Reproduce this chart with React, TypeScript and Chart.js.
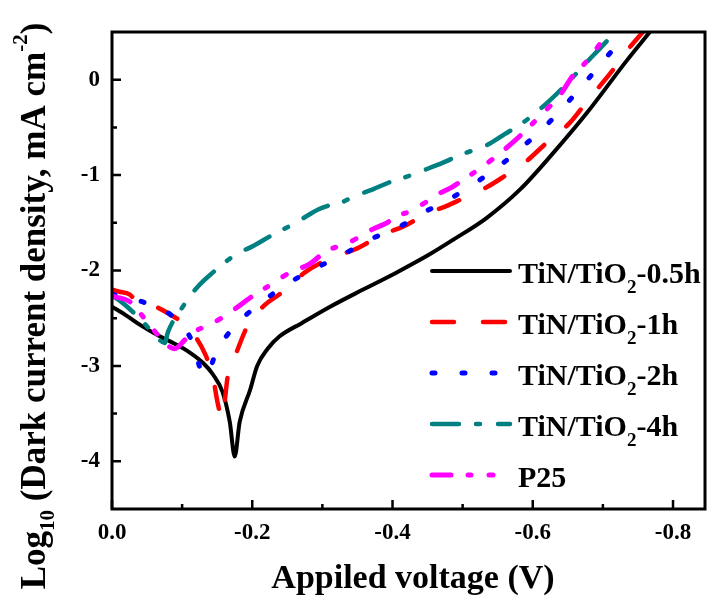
import { useEffect, useRef } from "react";
import { Chart, registerables } from "chart.js";

Chart.register(...registerables);

// Applied voltage (V) and log10 of dark current density for each sample
const voltage05h = [0, -0.02, -0.04, -0.068, -0.09, -0.111, -0.13, -0.144, -0.158, -0.168, -0.175, -0.182, -0.197, -0.207, -0.222, -0.239, -0.271, -0.311, -0.358, -0.406, -0.453, -0.486, -0.534, -0.582, -0.629, -0.677, -0.734, -0.767];
const logJ05h = [-2.38, -2.47, -2.57, -2.69, -2.77, -2.86, -2.97, -3.09, -3.28, -3.59, -3.95, -3.59, -3.25, -3.0, -2.82, -2.69, -2.55, -2.38, -2.2, -2.02, -1.83, -1.68, -1.45, -1.15, -0.77, -0.35, 0.2, 0.5];

const voltage1h = [0, -0.009, -0.025, -0.036, -0.055, -0.078, -0.111, -0.133, -0.144, -0.151, -0.157, -0.161, -0.165, -0.178, -0.194, -0.218, -0.235, -0.251, -0.275, -0.315, -0.346, -0.387, -0.415, -0.453, -0.475, -0.496, -0.513, -0.536, -0.56, -0.59, -0.617, -0.653, -0.677, -0.713, -0.735, -0.757];
const logJ1h = [-2.2, -2.22, -2.25, -2.33, -2.36, -2.44, -2.62, -2.88, -3.12, -3.4, -3.55, -3.35, -3.11, -2.85, -2.57, -2.36, -2.27, -2.18, -2.02, -1.86, -1.78, -1.62, -1.54, -1.39, -1.33, -1.26, -1.2, -1.12, -1.01, -0.86, -0.68, -0.45, -0.23, 0.09, 0.31, 0.5];

const voltage2h = [0, -0.044, -0.083, -0.114, -0.128, -0.134, -0.149, -0.175, -0.209, -0.25, -0.292, -0.33, -0.372, -0.4, -0.42, -0.445, -0.477, -0.51, -0.546, -0.586, -0.627, -0.664, -0.7, -0.735];
const logJ2h = [-2.25, -2.33, -2.46, -2.74, -3.07, -3.1, -2.85, -2.58, -2.36, -2.14, -1.97, -1.83, -1.66, -1.58, -1.5, -1.39, -1.27, -1.12, -0.94, -0.7, -0.42, -0.12, 0.19, 0.5];

const voltage4h = [0, -0.004, -0.043, -0.068, -0.075, -0.08, -0.1, -0.121, -0.144, -0.175, -0.202, -0.228, -0.262, -0.282, -0.294, -0.313, -0.329, -0.346, -0.372, -0.394, -0.415, -0.444, -0.472, -0.496, -0.536, -0.56, -0.586, -0.624, -0.65, -0.674, -0.71, -0.717];
const logJ4h = [-2.27, -2.28, -2.53, -2.73, -2.76, -2.64, -2.39, -2.18, -2.02, -1.84, -1.74, -1.63, -1.5, -1.41, -1.36, -1.31, -1.28, -1.22, -1.15, -1.08, -1.03, -0.95, -0.87, -0.79, -0.68, -0.57, -0.45, -0.22, -0.03, 0.16, 0.44, 0.5];

const voltageP25 = [0, -0.026, -0.047, -0.071, -0.089, -0.105, -0.118, -0.144, -0.172, -0.2, -0.226, -0.254, -0.282, -0.305, -0.337, -0.352, -0.363, -0.377, -0.392, -0.406, -0.425, -0.444, -0.465, -0.486, -0.511, -0.536, -0.56, -0.586, -0.613, -0.639, -0.657, -0.679, -0.703, -0.708];
const logJP25 = [-2.27, -2.33, -2.51, -2.72, -2.82, -2.72, -2.64, -2.55, -2.42, -2.27, -2.15, -2.02, -1.93, -1.8, -1.71, -1.65, -1.6, -1.55, -1.5, -1.43, -1.38, -1.3, -1.2, -1.12, -1.0, -0.87, -0.73, -0.56, -0.36, -0.16, 0.04, 0.21, 0.45, 0.5];

const seriesLabels = ["TiN/TiO_2-0.5h", "TiN/TiO_2-1h", "TiN/TiO_2-2h", "TiN/TiO_2-4h", "P25"];

const xMajorTicks = [0, -0.2, -0.4, -0.6, -0.8];
const xMinorTicks = [-0.1, -0.3, -0.5, -0.7];
const yMajorTicks = [0, -1, -2, -3, -4];
const yMinorTicks = [-0.5, -1.5, -2.5, -3.5];

const FONT = "'Liberation Serif', 'Times New Roman', serif";

type Part = { text: string; size: number; dy: number };

function partsWidth(ctx: CanvasRenderingContext2D, parts: Part[]) {
  let w = 0;
  for (const p of parts) {
    ctx.font = `bold ${p.size}px ${FONT}`;
    w += ctx.measureText(p.text).width;
  }
  return w;
}

function drawParts(ctx: CanvasRenderingContext2D, parts: Part[], x: number, y: number) {
  let cx = x;
  ctx.textBaseline = "alphabetic";
  ctx.textAlign = "left";
  for (const p of parts) {
    ctx.font = `bold ${p.size}px ${FONT}`;
    ctx.fillText(p.text, cx, y + p.dy);
    cx += ctx.measureText(p.text).width;
  }
}

function labelParts(label: string, size: number): Part[] {
  const idx = label.indexOf("_");
  if (idx < 0) return [{ text: label, size, dy: 0 }];
  return [
    { text: label.slice(0, idx), size, dy: 0 },
    { text: label.slice(idx + 1, idx + 2), size: 19, dy: 10 },
    { text: label.slice(idx + 2), size, dy: 0 },
  ];
}

const framePlugin = {
  id: "frameAndLabels",
  afterDraw(chart: any) {
    const ctx: CanvasRenderingContext2D = chart.ctx;
    const { left, right, top, bottom } = chart.chartArea;
    const xs = chart.scales.x;
    const ys = chart.scales.y;
    ctx.save();
    ctx.strokeStyle = "#000";
    ctx.fillStyle = "#000";

    // frame
    ctx.lineWidth = 3;
    ctx.lineCap = "butt";
    ctx.strokeRect(left, top, right - left, bottom - top);

    // inward ticks on the bottom and left axes
    ctx.lineWidth = 2.5;
    ctx.beginPath();
    for (const v of xMajorTicks) {
      const px = xs.getPixelForValue(v);
      ctx.moveTo(px, bottom);
      ctx.lineTo(px, bottom - 9);
    }
    for (const v of xMinorTicks) {
      const px = xs.getPixelForValue(v);
      ctx.moveTo(px, bottom);
      ctx.lineTo(px, bottom - 5);
    }
    for (const v of yMajorTicks) {
      const py = ys.getPixelForValue(v);
      ctx.moveTo(left, py);
      ctx.lineTo(left + 9, py);
    }
    for (const v of yMinorTicks) {
      const py = ys.getPixelForValue(v);
      ctx.moveTo(left, py);
      ctx.lineTo(left + 5, py);
    }
    ctx.stroke();

    // legend
    const lineX0 = right - 273;
    const lineX1 = right - 195;
    const textX = right - 187;
    chart.data.datasets.forEach((ds: any, i: number) => {
      const rowY = top + 239 + i * 51;
      ctx.save();
      ctx.strokeStyle = ds.borderColor;
      ctx.lineWidth = ds.borderWidth;
      ctx.lineCap = "round";
      ctx.setLineDash(ds.borderDash || []);
      ctx.beginPath();
      ctx.moveTo(lineX0, rowY);
      ctx.lineTo(lineX1, rowY);
      ctx.stroke();
      ctx.restore();
      drawParts(ctx, labelParts(ds.label, 30), textX, rowY + 12);
    });

    // x-axis title
    const xTitle: Part[] = [{ text: "Appiled voltage (V)", size: 34, dy: 0 }];
    const xw = partsWidth(ctx, xTitle);
    drawParts(ctx, xTitle, 413 - xw / 2, 588);

    // y-axis title
    const yTitle: Part[] = [
      { text: "Log", size: 35, dy: 0 },
      { text: "10", size: 21, dy: 9 },
      { text: " (Dark current density, mA cm", size: 35, dy: 0 },
      { text: "-2", size: 21, dy: -18 },
      { text: ")", size: 35, dy: 0 },
    ];
    const yw = partsWidth(ctx, yTitle);
    ctx.translate(45, 306);
    ctx.rotate(-Math.PI / 2);
    drawParts(ctx, yTitle, -yw / 2, 0);

    ctx.restore();
  },
};

function toPoints(xs: number[], ys: number[]) {
  return xs.map((x, i) => ({ x, y: ys[i] }));
}

export default function App() {
  const canvasRef = useRef<HTMLCanvasElement | null>(null);

  useEffect(() => {
    if (!canvasRef.current) return;
    const common = {
      fill: false,
      pointRadius: 0,
      cubicInterpolationMode: "monotone" as const,
      borderCapStyle: "round" as const,
      borderJoinStyle: "round" as const,
    };
    const chart = new Chart(canvasRef.current, {
      type: "line",
      data: {
        datasets: [
          { ...common, label: seriesLabels[0], data: toPoints(voltage05h, logJ05h), borderColor: "#000000", borderWidth: 4, borderDash: [], order: 5 },
          { ...common, label: seriesLabels[1], data: toPoints(voltage1h, logJ1h), borderColor: "#FF0000", borderWidth: 4.5, borderDash: [22, 29], order: 4 },
          { ...common, label: seriesLabels[2], data: toPoints(voltage2h, logJ2h), borderColor: "#0000FF", borderWidth: 5, borderDash: [3, 27], order: 3 },
          { ...common, label: seriesLabels[3], data: toPoints(voltage4h, logJ4h), borderColor: "#008080", borderWidth: 4.5, borderDash: [27, 17, 4, 18], order: 2 },
          { ...common, label: seriesLabels[4], data: toPoints(voltageP25, logJP25), borderColor: "#FF00FF", borderWidth: 5, borderDash: [19, 17, 3, 18, 4, 18], order: 1 },
        ],
      },
      options: {
        animation: false,
        responsive: false,
        maintainAspectRatio: false,
        layout: { padding: { top: 32, right: 3, left: 0, bottom: 0 } },
        plugins: {
          legend: { display: false },
          tooltip: { enabled: false },
          title: { display: false },
        },
        scales: {
          x: {
            type: "linear",
            reverse: true,
            min: -0.8456,
            max: 0,
            grid: { display: false, drawTicks: false },
            border: { display: false },
            afterFit: (scale: any) => {
              scale.height = 87;
            },
            afterBuildTicks: (scale: any) => {
              scale.ticks = xMajorTicks.map((value) => ({ value }));
            },
            ticks: {
              color: "#000",
              padding: 10,
              maxRotation: 0,
              font: { family: FONT, size: 23, weight: "bold" },
              callback: (v: any) => Number(v).toFixed(1),
            },
          },
          y: {
            type: "linear",
            min: -4.5,
            max: 0.5,
            grid: { display: false, drawTicks: false },
            border: { display: false },
            afterFit: (scale: any) => {
              scale.width = 112;
            },
            afterBuildTicks: (scale: any) => {
              scale.ticks = yMajorTicks.map((value) => ({ value }));
            },
            ticks: {
              color: "#000",
              padding: 12,
              font: { family: FONT, size: 23, weight: "bold" },
              callback: (v: any) => String(Math.round(Number(v))),
            },
          },
        },
      },
      plugins: [framePlugin],
    });
    return () => chart.destroy();
  }, []);

  return (
    <div style={{ position: "absolute", left: 0, top: 0, width: 708, height: 596, background: "#fff" }}>
      <canvas ref={canvasRef} width={708} height={596} style={{ display: "block", width: 708, height: 596 }} />
    </div>
  );
}
